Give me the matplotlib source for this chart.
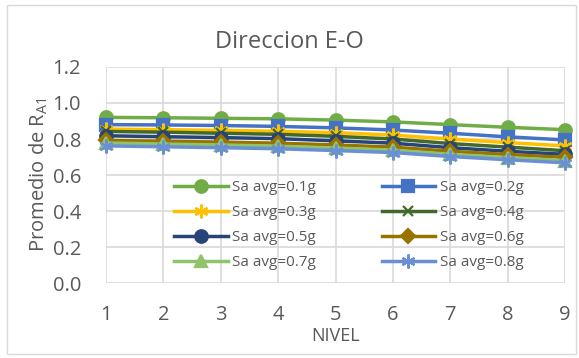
import matplotlib.pyplot as plt
import matplotlib.patches as patches

plt.rcParams['font.family'] = ['Open Sans', 'DejaVu Sans']

niveles = [1, 2, 3, 4, 5, 6, 7, 8, 9]
etiquetas = ["Sa avg=0.1g", "Sa avg=0.2g", "Sa avg=0.3g", "Sa avg=0.4g",
             "Sa avg=0.5g", "Sa avg=0.6g", "Sa avg=0.7g", "Sa avg=0.8g"]
r_01 = [0.92, 0.918, 0.915, 0.912, 0.905, 0.895, 0.88, 0.865, 0.852]
r_02 = [0.88, 0.878, 0.875, 0.87, 0.862, 0.85, 0.832, 0.812, 0.795]
r_03 = [0.855, 0.852, 0.848, 0.843, 0.835, 0.822, 0.8, 0.78, 0.762]
r_04 = [0.842, 0.838, 0.832, 0.826, 0.815, 0.8, 0.775, 0.755, 0.735]
r_05 = [0.818, 0.813, 0.808, 0.802, 0.79, 0.777, 0.752, 0.732, 0.715]
r_06 = [0.792, 0.788, 0.783, 0.777, 0.767, 0.755, 0.732, 0.714, 0.698]
r_07 = [0.778, 0.772, 0.767, 0.76, 0.75, 0.738, 0.715, 0.697, 0.68]
r_08 = [0.762, 0.757, 0.752, 0.746, 0.736, 0.725, 0.703, 0.685, 0.668]
series = [r_01, r_02, r_03, r_04, r_05, r_06, r_07, r_08]

colores = ['#70AD47', '#4472C4', '#FFC000', '#43682B',
           '#264478', '#997300', '#8FC46A', '#6A8FD3']
marcadores = ['o', 's', (6, 2, 0), 'x', 'o', 'D', '^', (6, 2, 0)]
tam = [9, 9, 10, 7.5, 9, 7, 8, 10]

fig = plt.figure(figsize=(5.79, 3.58), dpi=100)
ax = fig.add_axes([0.183, 0.209, 0.793, 0.604])

lineas = []
for y, lab, c, m, s in zip(series, etiquetas, colores, marcadores, tam):
    ln, = ax.plot(niveles, y, color=c, marker=m, markersize=s, linewidth=2.5,
                  markeredgewidth=1.6, label=lab, clip_on=False, zorder=3)
    lineas.append(ln)

gris = '#595959'
ax.set_xlim(1, 9)
ax.set_ylim(0, 1.2)
ax.set_xticks(niveles)
ax.set_yticks([0.0, 0.2, 0.4, 0.6, 0.8, 1.0, 1.2])
ax.set_yticklabels([f"{v:.1f}" for v in ax.get_yticks()])
ax.grid(True, color='#D9D9D9', linewidth=1.2)
ax.set_axisbelow(True)
for sp in ax.spines.values():
    sp.set_visible(False)
ax.tick_params(length=0, labelsize=14.5, colors=gris)
ax.tick_params(axis='x', pad=16)
ax.tick_params(axis='y', pad=18)
ax.set_xlabel("NIVEL", fontsize=13, color=gris, labelpad=1)
ax.set_ylabel("Promedio de R$_{\\mathregular{A1}}$", fontsize=14.5, color=gris, labelpad=2)
fig.text(0.5, 0.865, "Direccion E-O", ha='center', fontsize=17, color=gris)

# matplotlib fills legend columns first, so interleave to get row order
orden = [0, 2, 4, 6, 1, 3, 5, 7]
ax.legend([lineas[i] for i in orden], [etiquetas[i] for i in orden],
          ncol=2, loc='upper left', bbox_to_anchor=(0.135, 0.505), frameon=False,
          fontsize=11, labelcolor=gris, handlelength=3.5, columnspacing=4.3,
          handletextpad=0.3, labelspacing=0.65, borderaxespad=0)

fig.patches.append(patches.Rectangle((0.012, 0.01), 0.983, 0.975, transform=fig.transFigure,
                                     fill=False, edgecolor='#D9D9D9', linewidth=1))

fig.savefig("out.png", dpi=100)
